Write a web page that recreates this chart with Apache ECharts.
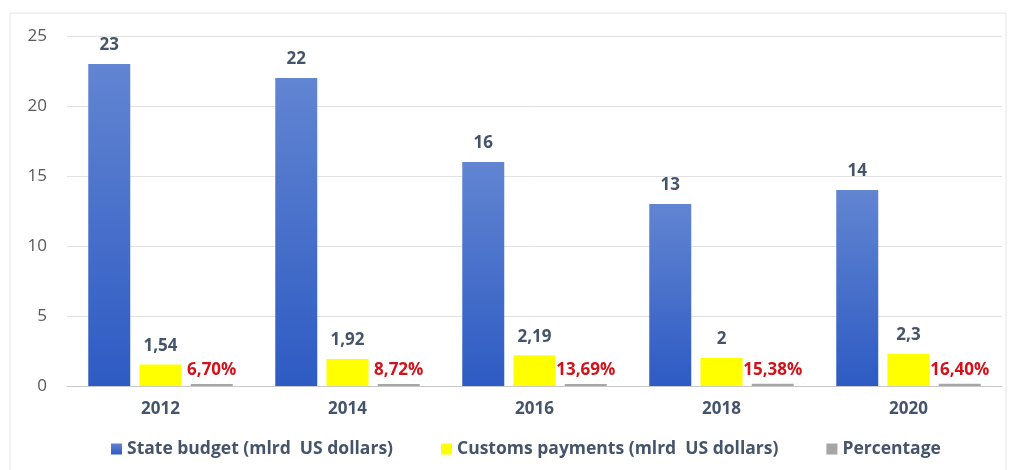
<!DOCTYPE html>
<html>
<head>
<meta charset="utf-8">
<script src="https://cdn.jsdelivr.net/npm/echarts@6/dist/echarts.min.js"></script>
<style>
  html, body { margin: 0; padding: 0; background: #fff; }
  #chart { width: 1010px; height: 470px; }
</style>
</head>
<body>
<div id="chart"></div>
<script>
var years = ['2012', '2014', '2016', '2018', '2020'];
var stateBudget = [23, 22, 16, 13, 14];
var customsPayments = [1.54, 1.92, 2.19, 2, 2.3];
var percentage = [6.70, 8.72, 13.69, 15.38, 16.40];
var yTicks = [0, 5, 10, 15, 20, 25];

function comma(v) {
    return String(v).replace('.', ',');
}

var myChart = echarts.init(document.getElementById('chart'));
var textColor = '#44546a';
var font = '"Open Sans", "Noto Sans", sans-serif';

var option = {
    animation: false,
    textStyle: { fontFamily: font },
    graphic: [{
        type: 'rect',
        shape: { x: 10, y: 13, width: 996, height: 460 },
        style: { fill: 'none', stroke: '#e6e6e6', lineWidth: 1 }
    }],
    legend: {
        bottom: 7,
        left: 106,
        itemWidth: 11,
        itemHeight: 11,
        itemGap: 48,
        icon: 'rect',
        textStyle: { color: textColor, fontSize: 17.5, fontWeight: 'bold', fontFamily: font },
        data: ['State budget (mlrd  US dollars)', 'Customs payments (mlrd  US dollars)', 'Percentage']
    },
    grid: { left: 67, right: 8, top: 36, bottom: 84 },
    xAxis: {
        type: 'category',
        data: years,
        axisTick: { show: false },
        axisLine: { lineStyle: { color: '#c8c8c8' } },
        axisLabel: { color: textColor, fontSize: 17, fontWeight: 'bold', margin: 15 }
    },
    yAxis: {
        type: 'value',
        min: yTicks[0],
        max: yTicks[yTicks.length - 1],
        interval: 5,
        axisLine: { show: false },
        axisTick: { show: false },
        splitLine: { lineStyle: { color: '#e2e2e2' } },
        axisLabel: { color: '#595959', fontSize: 17, margin: 20 }
    },
    series: [
        {
            name: 'State budget (mlrd  US dollars)',
            type: 'bar',
            barWidth: 42,
            barGap: '22%',
            data: stateBudget,
            itemStyle: {
                color: new echarts.graphic.LinearGradient(0, 0, 0, 1, [
                    { offset: 0, color: '#6285d2' },
                    { offset: 1, color: '#2e5bc3' }
                ])
            },
            label: {
                show: true, position: 'top', distance: 10,
                color: textColor, fontSize: 17, fontWeight: 'bold',
                formatter: function (p) { return comma(p.value); }
            }
        },
        {
            name: 'Customs payments (mlrd  US dollars)',
            type: 'bar',
            barWidth: 42,
            data: customsPayments,
            itemStyle: { color: '#ffff00' },
            label: {
                show: true, position: 'top', distance: 10,
                color: textColor, fontSize: 17, fontWeight: 'bold',
                formatter: function (p) { return comma(p.value); }
            }
        },
        {
            name: 'Percentage',
            type: 'bar',
            barWidth: 42,
            barMinHeight: 2,
            data: percentage.map(function (v) { return v / 100; }),
            itemStyle: { color: '#a6a6a6' },
            label: {
                show: true, position: 'top', distance: 5,
                color: '#d0121b', fontSize: 17, fontWeight: 'bold',
                formatter: function (p) { return comma(percentage[p.dataIndex].toFixed(2)) + '%'; }
            }
        }
    ]
};
myChart.setOption(option);
window.addEventListener('resize', function () { myChart.resize(); });
</script>
</body>
</html>
